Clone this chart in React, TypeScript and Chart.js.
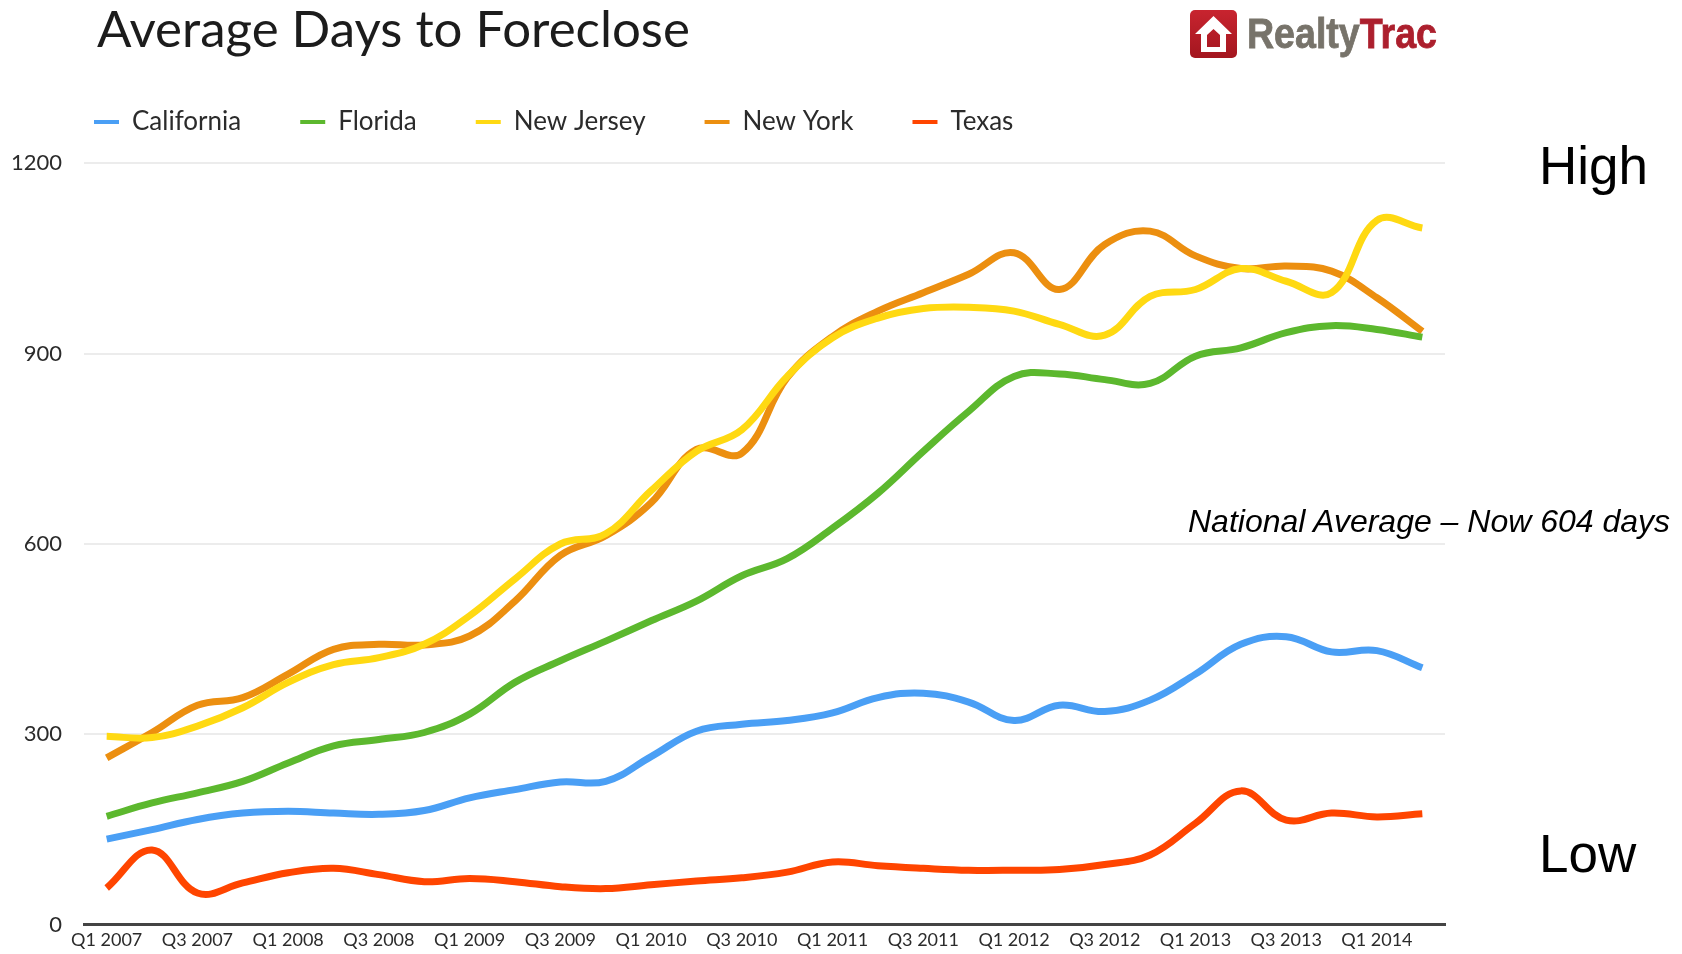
import React, { useEffect, useRef } from "react";
import { Chart, registerables } from "chart.js";

Chart.register(...registerables);

const quarters = [
  "Q1 2007","Q2 2007","Q3 2007","Q4 2007","Q1 2008","Q2 2008","Q3 2008","Q4 2008",
  "Q1 2009","Q2 2009","Q3 2009","Q4 2009","Q1 2010","Q2 2010","Q3 2010","Q4 2010",
  "Q1 2011","Q2 2011","Q3 2011","Q4 2011","Q1 2012","Q2 2012","Q3 2012","Q4 2012",
  "Q1 2013","Q2 2013","Q3 2013","Q4 2013","Q1 2014","Q2 2014",
];
const california = [135,150,166,176,179,176,174,180,200,213,225,226,265,305,316,322,334,358,365,351,322,346,336,354,395,442,454,430,432,405];
const florida = [171,192,208,226,255,282,292,303,332,382,416,447,479,510,550,577,625,680,746,809,864,868,859,853,896,909,933,944,938,926];
const newJersey = [297,295,313,342,382,410,421,442,487,545,600,616,684,746,780,864,925,956,971,973,967,946,929,990,1001,1034,1014,996,1110,1098];
const newYork = [263,303,346,358,395,434,442,441,455,510,582,613,665,749,743,862,927,967,996,1025,1059,1001,1072,1093,1054,1034,1038,1030,988,935];
const texas = [58,118,50,66,82,89,79,68,73,68,60,57,63,69,74,83,99,93,89,86,86,87,95,110,160,211,165,176,170,175];

const seriesNames = ["California", "Florida", "New Jersey", "New York", "Texas"];
const seriesValues = [california, florida, newJersey, newYork, texas];
const seriesColors = ["#4a9ff5", "#5cb82e", "#ffd912", "#ec8f10", "#ff4500"];

const FONT = "Lato, 'Noto Sans', sans-serif";
const ARIAL = "'Liberation Sans', Arial, sans-serif";

const placeBlocks = {
  id: "placeBlocks",
  afterLayout(chart: any) {
    if (chart.titleBlock) {
      chart.titleBlock.left = 97;
      chart.titleBlock.top = 0;
    }
    if (chart.legend) {
      chart.legend.left = 35;
      chart.legend.top = 50;
    }
  },
};

const note = (text: string, left: number, top: number, size: number, italic = false) => (
  <div
    style={{
      position: "absolute",
      left,
      top,
      fontFamily: ARIAL,
      fontSize: size,
      fontStyle: italic ? "italic" : "normal",
      lineHeight: 1,
      color: "#000",
      whiteSpace: "nowrap",
    }}
  >
    {text}
  </div>
);

export default function App() {
  const ref = useRef<HTMLCanvasElement>(null);
  useEffect(() => {
    const chart = new Chart(ref.current as HTMLCanvasElement, {
      type: "line",
      data: {
        labels: quarters,
        datasets: seriesNames.map((name, i) => ({
          label: name,
          data: seriesValues[i],
          borderColor: seriesColors[i],
          backgroundColor: seriesColors[i],
          borderWidth: 7,
          pointRadius: 0,
          tension: 0.4,
          fill: false,
        })),
      },
      options: {
        animation: false,
        responsive: false,
        devicePixelRatio: 1,
        layout: { autoPadding: false, padding: { left: 0, right: 237, top: 7, bottom: 0 } },
        plugins: {
          tooltip: { enabled: false },
          title: {
            display: true,
            text: "Average Days to Foreclose",
            align: "start",
            color: "#1c1c1c",
            padding: { top: 0, bottom: 0 },
            font: { family: FONT, size: 51, weight: "400", lineHeight: 1.2 },
          },
          legend: {
            display: true,
            position: "top",
            align: "start",
            labels: {
              usePointStyle: true,
              pointStyle: "line",
              pointStyleWidth: 25,
              padding: 59,
              color: "#2b2b2b",
              font: { family: FONT, size: 26 },
              generateLabels: (c: any) =>
                Chart.defaults.plugins.legend.labels
                  .generateLabels(c)
                  .map((item: any) => ({ ...item, lineWidth: 4 })),
            },
          },
        },
        scales: {
          x: {
            offset: true,
            grid: { display: false, drawTicks: false },
            border: { display: true, color: "#444444", width: 3 },
            ticks: {
              autoSkip: false,
              maxRotation: 0,
              padding: 5,
              color: "#2b2b2b",
              font: { family: FONT, size: 18 },
              callback: (_v: any, i: number) => (i % 2 === 0 ? quarters[i] : ""),
            },
          },
          y: {
            min: 0,
            max: 1200,
            grid: { color: "#ececec", lineWidth: 2, drawTicks: false },
            border: { display: false },
            afterFit: (s: any) => {
              s.width = 84;
            },
            ticks: {
              stepSize: 300,
              padding: 22,
              color: "#2b2b2b",
              font: { family: FONT, size: 22 },
              callback: (v: any) => String(v),
            },
          },
        },
      },
      plugins: [placeBlocks],
    } as any);
    return () => chart.destroy();
  }, []);

  return (
    <div style={{ position: "fixed", left: 0, top: 0, width: 1682, height: 954, background: "#fff", overflow: "hidden" }}>
      <canvas ref={ref} width={1682} height={960} style={{ display: "block", position: "absolute", left: 0, top: 0 }} />
      {note("High", 1539, 139, 53)}
      {note("Low", 1539, 827, 53)}
      {note("National Average – Now 604 days", 1188, 505, 32, true)}
      <svg width={260} height={60} viewBox="0 0 260 60" style={{ position: "absolute", left: 1185, top: 5 }}>
        <defs>
          <linearGradient id="logoRed" x1="0" y1="0" x2="0" y2="1">
            <stop offset="0" stopColor="#c8242f" />
            <stop offset="1" stopColor="#a3161f" />
          </linearGradient>
        </defs>
        <rect x={5} y={5} width={47} height={48} rx={5} fill="url(#logoRed)" />
        <path
          d="M28.5 11 L47 29 H41 V47 H16 V29 H10 Z M22 30 V42 H35 V30 L28.5 24 Z"
          fill="#fff"
          fillRule="evenodd"
        />
        <text x={62} y={43} fontFamily={ARIAL} fontWeight={700} fontSize={42} textLength={190} lengthAdjust="spacingAndGlyphs">
          <tspan fill="#77736a" stroke="#77736a" strokeWidth={0.8}>Realty</tspan>
          <tspan fill="#ac1f2d" stroke="#ac1f2d" strokeWidth={0.8}>Trac</tspan>
        </text>
      </svg>
    </div>
  );
}
